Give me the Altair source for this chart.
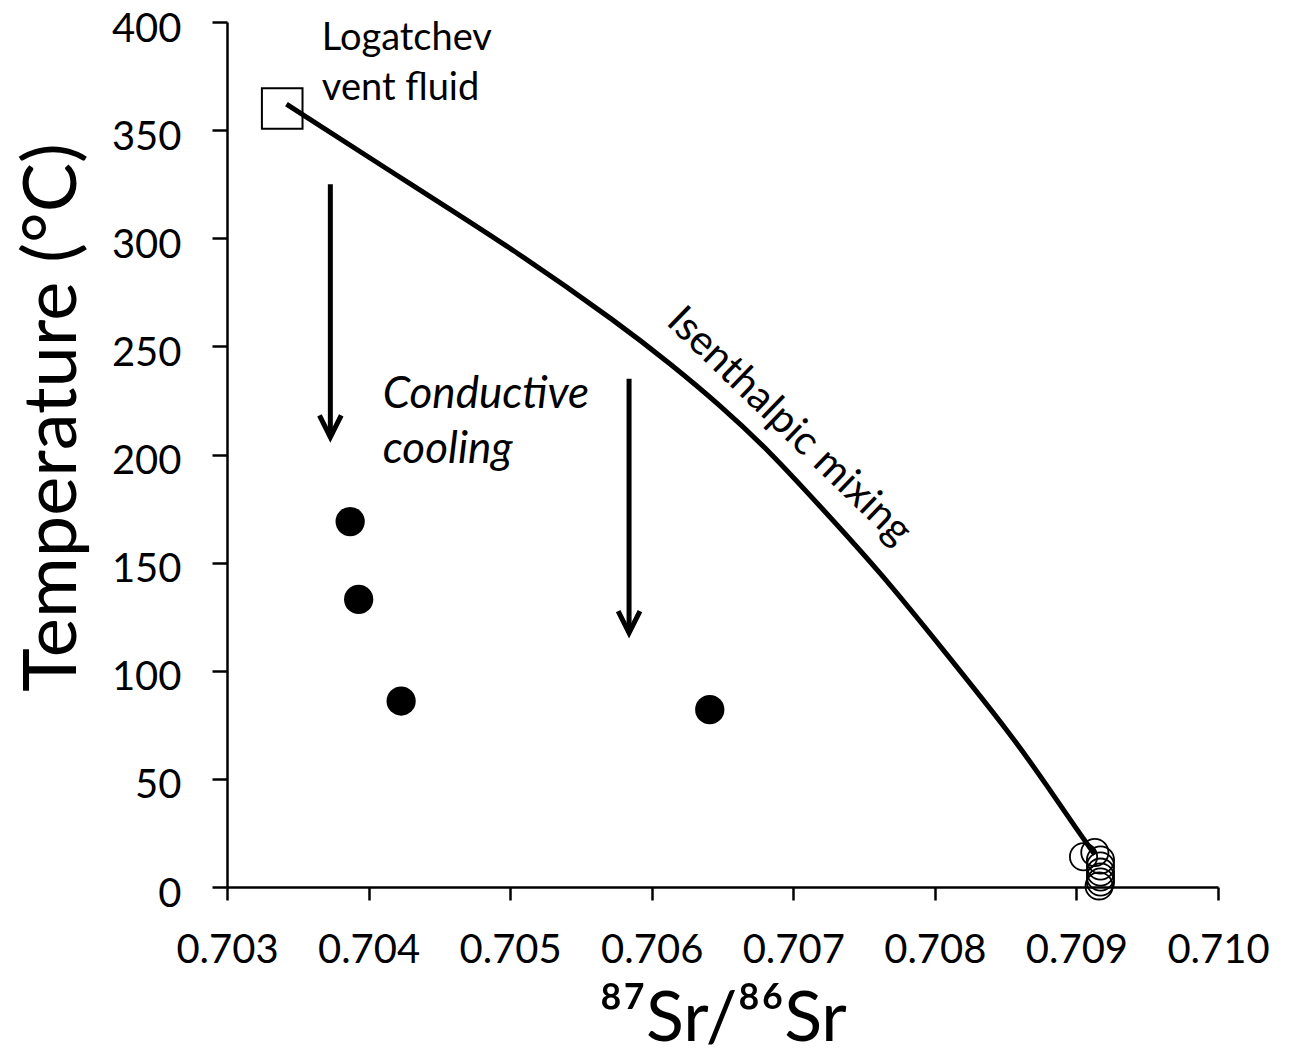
import altair as alt
import pandas as pd

# ---- data ----
vent_sr = [0.70339]
vent_t = [360]

chimney_sr = [0.70387, 0.70393, 0.70423, 0.70641]
chimney_t = [169, 133, 86, 82]

sw_sr = [0.70905, 0.70913, 0.70917, 0.70917, 0.70917, 0.70917, 0.70917, 0.70916]
sw_t = [14, 16, 12.5, 9.7, 6.9, 4.6, 2.3, 0.5]

curve_sr = [0.70342, 0.70432, 0.70502, 0.70578, 0.70613, 0.70648, 0.70684,
            0.70719, 0.70761, 0.70808, 0.70855, 0.70879, 0.70902, 0.70913]
curve_t = [362, 324, 295, 260, 242, 223, 201, 176, 146, 108, 69.5, 47, 25, 15]

arrow_sr = [0.70373, 0.70584]
arrow_top = [325, 235]
arrow_tip = [208, 117.5]

label_sr = [0.70367, 0.70367]
label_t = [387, 364]
label_txt = ["Logatchev", "vent fluid"]

cool_sr = [0.70410, 0.70410]
cool_t = [221.5, 196]
cool_txt = ["Conductive", "cooling"]

mix_sr = [0.70697]
mix_t = [213]
mix_txt = ["Isenthalpic mixing"]

x_ticks = [0.703, 0.704, 0.705, 0.706, 0.707, 0.708, 0.709, 0.710]
y_ticks = [0, 50, 100, 150, 200, 250, 300, 350, 400]

FONT = "Lato"

xscale = alt.Scale(domain=[0.703, 0.710], nice=False, zero=False)
yscale = alt.Scale(domain=[0, 400], nice=False)

xaxis = alt.Axis(values=x_ticks, format=".3f", tickSize=13, labelPadding=30,
                 labelOverlap=False, labelFlush=False,
                 title="\u2078\u2077Sr/\u2078\u2076Sr", titleFontSize=70,
                 titleFontWeight="normal", titleFont=FONT, titleColor="black",
                 titleY=153, titleBaseline="alphabetic")
yaxis = alt.Axis(values=y_ticks, tickSize=15, labelPadding=31,
                 labelOffset=7, labelOverlap=False, labelFlush=False,
                 title="Temperature (\u00b0C)", titleFontSize=74,
                 titleFontWeight="normal", titleFont=FONT, titleColor="black",
                 titleAngle=-90, titleX=-174, titleY=395, titleBaseline="middle",
                 titleAlign="center")

X = lambda f: alt.X(f, type="quantitative", scale=xscale, axis=xaxis)
Y = lambda f: alt.Y(f, type="quantitative", scale=yscale, axis=yaxis)

curve_df = pd.DataFrame({"sr": curve_sr, "t": curve_t})
curve = alt.Chart(curve_df).mark_line(color="black", strokeWidth=5,
                                      interpolate="basis").encode(
    x=X("sr"), y=Y("t"), order="sr:Q")

vent = alt.Chart(pd.DataFrame({"sr": vent_sr, "t": vent_t})).mark_point(
    shape="square", size=1650, filled=False, color="black", strokeWidth=2,
    opacity=1).encode(x=X("sr"), y=Y("t"))

chim = alt.Chart(pd.DataFrame({"sr": chimney_sr, "t": chimney_t})).mark_circle(
    size=855, color="black", opacity=1).encode(x=X("sr"), y=Y("t"))

sw = alt.Chart(pd.DataFrame({"sr": sw_sr, "t": sw_t})).mark_point(
    shape="circle", size=740, filled=False, color="black", strokeWidth=1.8,
    opacity=1).encode(x=X("sr"), y=Y("t"))

arr_df = pd.DataFrame({"sr": arrow_sr, "top": arrow_top, "tip": arrow_tip})
shaft = alt.Chart(arr_df).mark_rule(color="black", strokeWidth=5).encode(
    x=X("sr"), y=Y("top"), y2="tip")
head = alt.Chart(arr_df).mark_point(
    shape="M -0.5 -1 L 0 0 L 0.5 -1", size=1900, filled=False, color="black",
    strokeWidth=5, opacity=1).encode(x=X("sr"), y=Y("tip"))

lab = alt.Chart(pd.DataFrame({"sr": label_sr, "t": label_t, "txt": label_txt})).mark_text(
    font=FONT, fontSize=38, align="left", baseline="alphabetic", color="black").encode(
    x=X("sr"), y=Y("t"), text="txt")

cool = alt.Chart(pd.DataFrame({"sr": cool_sr, "t": cool_t, "txt": cool_txt})).mark_text(
    font=FONT, fontSize=44, fontStyle="italic", align="left", baseline="alphabetic",
    color="black").encode(x=X("sr"), y=Y("t"), text="txt")

mix = alt.Chart(pd.DataFrame({"sr": mix_sr, "t": mix_t, "txt": mix_txt})).mark_text(
    font=FONT, fontSize=41, angle=44, align="center", baseline="middle",
    color="black").encode(x=X("sr"), y=Y("t"), text="txt")

chart = alt.layer(curve, shaft, head, vent, chim, sw, lab, cool, mix).properties(
    width=991, height=865,
    autosize=alt.AutoSizeParams(type="none"),
    padding={"left": 219, "top": 14, "right": 60, "bottom": 166},
).configure_view(stroke=None).configure_axis(
    grid=False, domainColor="black", domainWidth=2.5, tickColor="black",
    tickWidth=2.5, labelFont=FONT, labelFontSize=40, labelColor="black",
)

chart.save("out.html", embed_options={"renderer": "svg", "actions": False})
